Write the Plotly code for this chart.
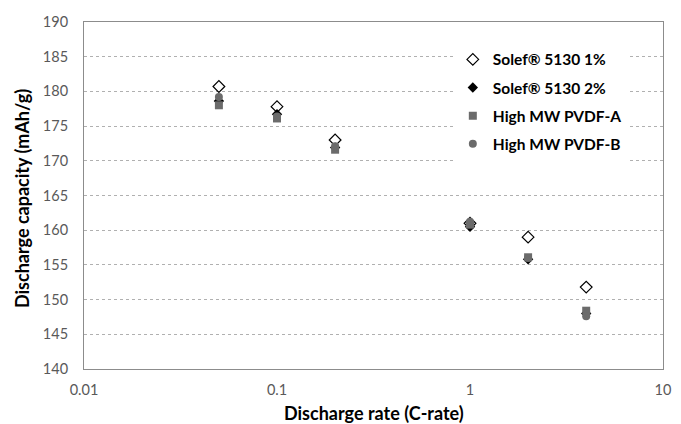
import plotly.graph_objects as go

c_rate = [0.05, 0.1, 0.2, 1, 2, 4]
solef_1pct = [180.7, 177.8, 173.0, 161.0, 159.0, 151.8]
solef_2pct = [178.6, 176.7, 171.9, 160.5, 155.8, 148.0]
pvdf_a = [178.0, 176.1, 171.6, 160.8, 156.1, 148.4]
pvdf_b = [179.2, 176.4, 172.1, 161.2, 156.0, 147.6]

x_ticks = [0.01, 0.1, 1, 10]
x_ticktext = ["0.01", "0.1", "1", "10"]
y_ticks = list(range(140, 191, 5))

x_title = "Discharge rate (C-rate)"
y_title = "Discharge capacity (mAh/g)"

series = [
    ("Solef\u00ae 5130 1%", solef_1pct, "diamond-open", "#000000", 9),
    ("Solef\u00ae 5130 2%", solef_2pct, "diamond", "#000000", 8),
    ("High MW PVDF-A", pvdf_a, "square", "#6b6b6b", 8),
    ("High MW PVDF-B", pvdf_b, "circle", "#6b6b6b", 8),
]

fig = go.Figure()
for i, (name, vals, sym, col, sz) in enumerate(series):
    fig.add_trace(go.Scatter(
        x=c_rate, y=vals, mode="markers", name=name, legendgroup=str(i),
        marker=dict(symbol=sym, color=col, size=sz,
                    line=dict(color=col, width=1.2 if sym == "diamond-open" else 0)),
    ))

font_family = "Lato, 'Open Sans', sans-serif"
# page body has an 8px default margin, so the figure is sized to fit the window
fig.update_layout(
    width=673, height=416,
    margin=dict(l=76, r=18, t=14, b=55),
    paper_bgcolor="white", plot_bgcolor="white",
    font=dict(family=font_family, color="#000000"),
    showlegend=True,
    legend=dict(
        x=0.637, y=0.94, xanchor="left", yanchor="top",
        bgcolor="white", borderwidth=0,
        font=dict(size=15.5, color="#000000", family=font_family, weight="bold"),
        tracegroupgap=5, itemwidth=30,
    ),
    xaxis=dict(
        type="log", range=[-2, 1], tickvals=x_ticks, ticktext=x_ticktext,
        showgrid=False, showline=True, linecolor="#8c8c8c", linewidth=1, mirror=True,
        ticks="", tickfont=dict(size=14.5, color="#595959"), ticklabelstandoff=8,
        automargin=False, zeroline=False,
    ),
    yaxis=dict(
        range=[140, 190], tickvals=y_ticks,
        showgrid=True, gridcolor="#b0b0b0", griddash="dot", gridwidth=1,
        showline=True, linecolor="#8c8c8c", linewidth=1, mirror=True,
        ticks="", tickfont=dict(size=14.5, color="#595959"), ticklabelstandoff=12,
        automargin=False, zeroline=False,
    ),
    annotations=[
        dict(text="<b>" + x_title + "</b>", xref="paper", yref="paper", x=0.5, y=-0.127,
             xanchor="center", yanchor="middle", showarrow=False,
             font=dict(size=18, color="#000000", family=font_family)),
        dict(text="<b>" + y_title + "</b>", xref="paper", yref="paper", x=-0.107, y=0.49,
             xanchor="center", yanchor="middle", showarrow=False, textangle=-90,
             font=dict(size=18, color="#000000", family=font_family)),
    ],
)

fig.write_html("out.html")
